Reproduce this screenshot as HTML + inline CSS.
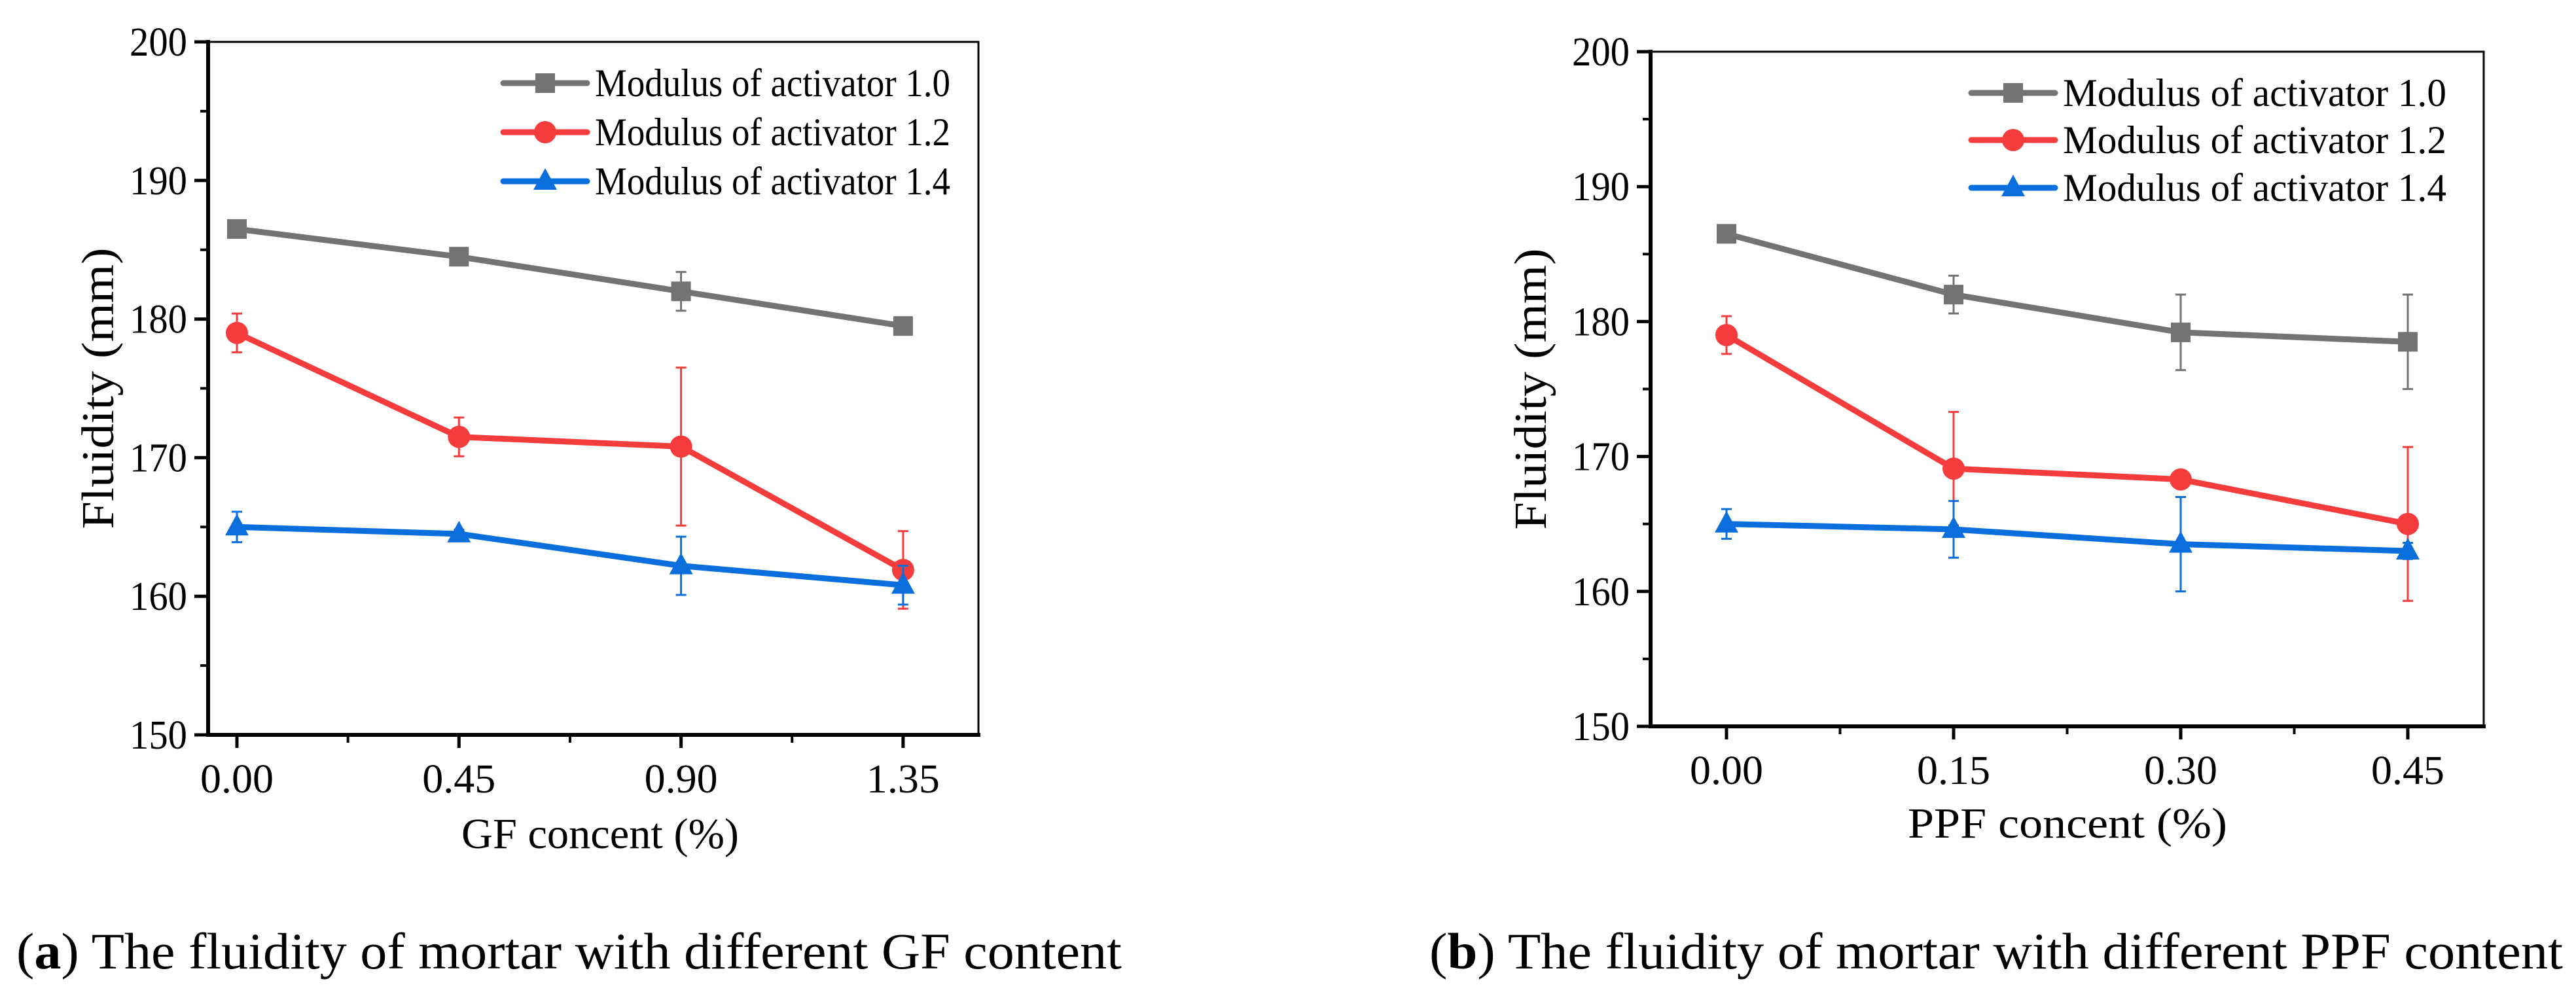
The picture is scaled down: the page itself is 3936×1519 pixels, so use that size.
<!DOCTYPE html>
<html><head><meta charset="utf-8"><style>
html,body{margin:0;padding:0;background:#fff;}
svg{display:block;}
text{font-family:"Liberation Serif",serif;fill:#000;}
</style></head><body>
<svg id="fig" width="3936" height="1519" viewBox="0 0 3936 1519" xmlns="http://www.w3.org/2000/svg">
<rect width="3936" height="1519" fill="#fff"/>
<g id="chartA"></g>
<g id="chartB"></g>
<text x="25" y="1480" font-size="78" textLength="1689" lengthAdjust="spacingAndGlyphs">(<tspan font-weight="bold">a</tspan>) The fluidity of mortar with different GF content</text>
<text x="2184" y="1480" font-size="78" textLength="1732" lengthAdjust="spacingAndGlyphs">(<tspan font-weight="bold">b</tspan>) The fluidity of mortar with different PPF content</text>
</svg>
<script>
const seriesNames = ["Modulus of  activator 1.0","Modulus of  activator 1.2","Modulus of  activator 1.4"];
const yTicks = [150,160,170,180,190,200];
const gfCategories = ["0.00","0.45","0.90","1.35"];
const gfGray = [186.5,184.5,182.0,179.5];
const gfGrayErr = [0.3,0.3,1.4,0.3];
const gfRed = [179.0,171.5,170.8,161.9];
const gfRedErr = [1.4,1.4,5.7,2.8];
const gfBlue = [165.0,164.5,162.2,160.8];
const gfBlueErr = [1.1,0.3,2.1,1.4];
const ppfCategories = ["0.00","0.15","0.30","0.45"];
const ppfGray = [186.5,182.0,179.2,178.5];
const ppfGrayErr = [0.3,1.4,2.8,3.5];
const ppfRed = [179.0,169.1,168.3,165.0];
const ppfRedErr = [1.4,4.2,0.3,5.7];
const ppfBlue = [165.0,164.6,163.5,163.0];
const ppfBlueErr = [1.1,2.1,3.5,0.6];

const NS="http://www.w3.org/2000/svg";
function mk(parent,tag,attrs){const e=document.createElementNS(NS,tag);for(const k in attrs)e.setAttribute(k,attrs[k]);parent.appendChild(e);return e;}
const colors=["#737373","#f53c3c","#0a6fdc"];
const shapes=["square","circle","triangle"];

function marker(g,shape,x,y,c){
  let m;
  if(shape==="square") m=mk(g,"rect",{x:x-15,y:y-15,width:30,height:30,fill:c});
  else if(shape==="circle") m=mk(g,"circle",{cx:x,cy:y,r:17,fill:c});
  else m=mk(g,"polygon",{points:`${x},${y-20} ${x-18},${y+13} ${x+18},${y+13}`,fill:c});
  return m;
}

function drawChart(g,cfg){
  const {L,R,T,B,x0,dx,cats,series,errs,xlabel,ylabX,legX,legY,legW} = cfg;
  const yS=v=>B-(v-150)/50*(B-T);
  const xS=i=>x0+i*dx;
  const fr=mk(g,"path",{d:`M${L},${T} H${R} V${B}`,fill:"none",stroke:"#000","stroke-width":3});
  
  
  const ya=mk(g,"line",{x1:L,y1:T-3,x2:L,y2:B+3,stroke:"#000","stroke-width":6});
  
  
  const xa=mk(g,"line",{x1:L-3,y1:B,x2:R+3,y2:B,stroke:"#000","stroke-width":6});
  
  
  yTicks.forEach((v,i)=>{
    const y=yS(v);
    mk(g,"line",{x1:L-21,y1:y,x2:L,y2:y,stroke:"#000","stroke-width":5});
    if(i<yTicks.length-1) mk(g,"line",{x1:L-12,y1:yS(v+5),x2:L,y2:yS(v+5),stroke:"#000","stroke-width":4});
    const t=mk(g,"text",{x:L-32,y:y+21,"font-size":62,"text-anchor":"end",textLength:88,lengthAdjust:"spacingAndGlyphs"});
    t.textContent=v;
    
    
  });
  cats.forEach((c,i)=>{
    const x=xS(i);
    mk(g,"line",{x1:x,y1:B,x2:x,y2:B+20,stroke:"#000","stroke-width":5});
    if(i<cats.length-1) mk(g,"line",{x1:x+dx/2,y1:B,x2:x+dx/2,y2:B+12,stroke:"#000","stroke-width":4});
    const t=mk(g,"text",{x:x,y:B+88,"font-size":62,"text-anchor":"middle",textLength:112,lengthAdjust:"spacingAndGlyphs"});
    t.textContent=c;
    
    
  });
  series.forEach((vals,s)=>{
    const c=colors[s];
    const sg=mk(g,"g",{});
    
    
    vals.forEach((v,i)=>{
      const x=xS(i),e=errs[s][i];
      mk(sg,"path",{d:`M${x},${yS(v+e)} V${yS(v-e)} M${x-8},${yS(v+e)} H${x+8} M${x-8},${yS(v-e)} H${x+8}`,stroke:c,"stroke-width":3,fill:"none"});
    });
    const line=mk(sg,"polyline",{points:vals.map((v,i)=>xS(i)+","+yS(v)).join(" "),fill:"none",stroke:c,"stroke-width":9,"stroke-linejoin":"round"});
    
    
    vals.forEach((v,i)=>{
      const m=marker(sg,shapes[s],xS(i),yS(v),c);
      
      
    });
  });
  seriesNames.forEach((n,s)=>{
    const y=legY[s],c=colors[s];
    const lg=mk(g,"g",{});
    
    
    mk(lg,"line",{x1:legX,y1:y,x2:legX+128,y2:y,stroke:c,"stroke-width":9,"stroke-linecap":"round"});
    marker(lg,shapes[s],legX+64,y,c);
    const t=mk(lg,"text",{x:legX+140,y:y+20,"font-size":60,textLength:legW,lengthAdjust:"spacingAndGlyphs"});
    t.textContent=n;
  });
  const xl=mk(g,"text",{x:cfg.xlabX,y:cfg.xlabY,"font-size":66,"text-anchor":"middle",textLength:cfg.xlabW,lengthAdjust:"spacingAndGlyphs"});
  xl.textContent=xlabel;
  
  
  const cy=(T+B)/2;
  const yl=mk(g,"text",{x:0,y:0,"font-size":70,"text-anchor":"middle",textLength:430,lengthAdjust:"spacingAndGlyphs",transform:`translate(${ylabX},${cy}) rotate(-90)`});
  yl.textContent="Fluidity (mm)";
  
  
}

drawChart(document.getElementById('chartA'),{L:318,R:1495,T:64,B:1123,x0:362,dx:339.3,cats:gfCategories,
  series:[gfGray,gfRed,gfBlue],errs:[gfGrayErr,gfRedErr,gfBlueErr],xlabel:"GF concent (%)",
  xlabX:917,xlabY:1296,xlabW:424,ylabX:173,legX:769,legY:[127,202,277],legW:543});
drawChart(document.getElementById('chartB'),{L:2522,R:3795,T:79,B:1110,x0:2638,dx:347,cats:ppfCategories,
  series:[ppfGray,ppfRed,ppfBlue],errs:[ppfGrayErr,ppfRedErr,ppfBlueErr],xlabel:"PPF concent (%)",
  xlabX:3159,xlabY:1280,xlabW:488,ylabX:2362,legX:3012,legY:[142,214,287],legW:586});
</script>
</body></html>
